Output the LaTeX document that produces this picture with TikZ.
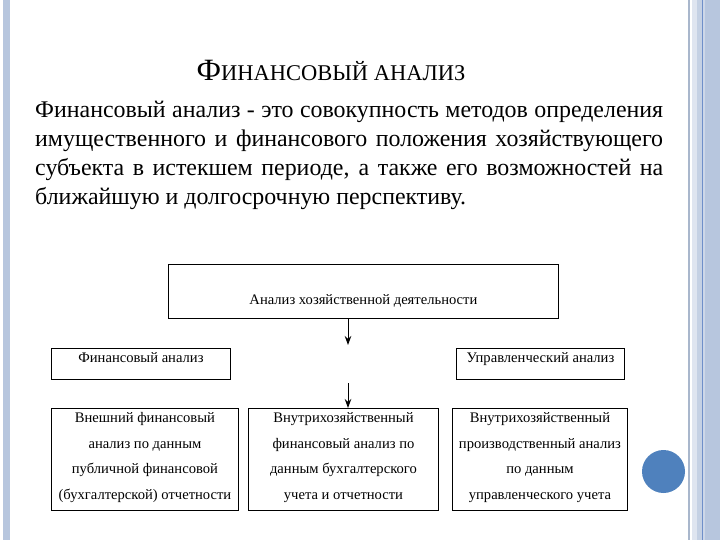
\documentclass[tikz,border=0pt]{standalone}
\usepackage{fontspec}
\setmainfont{Liberation Serif}
\usetikzlibrary{arrows.meta}
\definecolor{frameblue}{HTML}{B7C6DE}
\definecolor{framegray}{HTML}{A9B7CC}
\definecolor{frameline}{HTML}{6F8FC9}
\definecolor{dotblue}{HTML}{4F81BD}
\tikzset{
  box/.style={draw, line width=0.9pt, inner xsep=0pt, inner ysep=3pt, align=center,
    font=\fontsize{14.6}{25.5}\selectfont},
  arr/.style={-{Stealth[length=9pt,width=6.5pt]}, line width=0.9pt}
}
\begin{document}
\begin{tikzpicture}[x=1pt, y=-1pt]
\useasboundingbox (0,0) rectangle (720,540);
% side bands
\fill[frameblue] (3,0) rectangle (10,540);
\fill[framegray] (688,0) rectangle (690,540);
\fill[frameblue!45] (692,0) rectangle (697,540);
\fill[frameblue!80] (697,0) rectangle (702,540);
\fill[frameline] (702,0) rectangle (703,540);
\fill[frameblue!70] (703,0) rectangle (705,540);
\fill[frameblue] (705,0) rectangle (720,540);
% heading and text
\node[anchor=base, inner sep=0] (title) at (331,81)
  {{\fontsize{31}{31}\selectfont Ф}{\fontsize{22.5}{22.5}\selectfont ИНАНСОВЫЙ АНАЛИЗ}};
\node[anchor=base west, inner sep=0, text width=628pt, align=justify,
  font=\fontsize{23.9}{28.7}\selectfont] (defn) at (35,118)
  {Финансовый анализ - это совокупность методов определения имущественного и финансового положения хозяйствующего субъекта в истекшем периоде, а также его возможностей на ближайшую и долгосрочную перспективу.};
% boxes
\node[box, anchor=north west, minimum width=390pt, text height=34pt, text depth=8pt, inner ysep=6pt] (ahd) at (168,264)
  {Анализ хозяйственной деятельности};
\node[box, anchor=north west, minimum width=179pt, text height=11pt, text depth=14pt] (fin) at (51,348)
  {Финансовый анализ};
\node[box, anchor=north west, minimum width=168pt, text height=11pt, text depth=14pt] (upr) at (456,348)
  {Управленческий анализ};
\node[box, anchor=north west, minimum width=187pt, text height=88pt, text depth=8pt] (ext) at (51,408)
  {Внешний финансовый\\анализ по данным\\публичной финансовой\\(бухгалтерской) отчетности};
\node[box, anchor=north west, minimum width=190pt, text height=88pt, text depth=8pt] (inn) at (248,408)
  {Внутрихозяйственный\\финансовый анализ по\\данным бухгалтерского\\учета и отчетности};
\node[box, anchor=north west, minimum width=175pt, text height=88pt, text depth=8pt] (prod) at (452,408)
  {Внутрихозяйственный\\производственный анализ\\по данным\\управленческого учета};
% arrows
\coordinate (a1) at (348,345);
\coordinate (a2) at (348,383);
\draw[arr] (ahd.south -| a1) -- (a1);
\draw[arr] (a2) -- (inn.north -| a2);
% dot
\fill[dotblue] (663.5,471.5) circle[radius=21.5pt];
\end{tikzpicture}
\end{document}
